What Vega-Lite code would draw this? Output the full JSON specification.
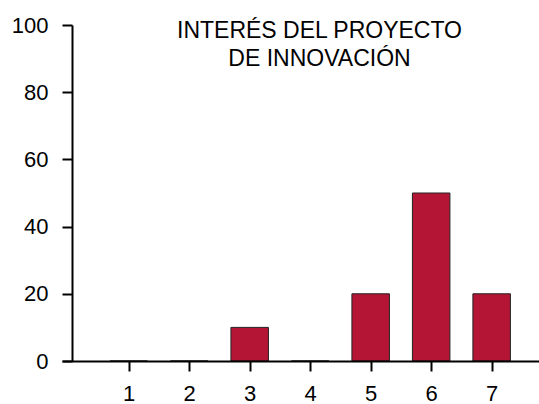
{
  "$schema": "https://vega.github.io/schema/vega-lite/v6.json",
  "autosize": "none",
  "padding": {"left": 62, "top": 25, "right": 0, "bottom": 43},
  "width": 477,
  "height": 336,
  "background": "white",
  "config": {
    "view": {"stroke": null},
    "font": "Liberation Sans"
  },
  "title": {
    "text": ["INTERÉS DEL PROYECTO", "DE INNOVACIÓN"],
    "fontSize": 23,
    "fontWeight": "normal",
    "font": "Liberation Sans",
    "color": "black",
    "lineHeight": 28,
    "baseline": "alphabetic",
    "anchor": "middle",
    "frame": "group",
    "orient": "top",
    "offset": -40,
    "dx": 19,
    "dy": 35
  },
  "data": {
    "values": [
      {"puntuacion": 1, "porcentaje": 0},
      {"puntuacion": 2, "porcentaje": 0},
      {"puntuacion": 3, "porcentaje": 10},
      {"puntuacion": 4, "porcentaje": 0},
      {"puntuacion": 5, "porcentaje": 20},
      {"puntuacion": 6, "porcentaje": 50},
      {"puntuacion": 7, "porcentaje": 20}
    ]
  },
  "mark": {"type": "bar", "size": 37.5, "color": "#B51535", "stroke": "#222222", "strokeWidth": 1},
  "encoding": {
    "x": {
      "field": "puntuacion",
      "type": "quantitative",
      "scale": {"domain": [-0.02, 7.7], "nice": false, "zero": false},
      "axis": {
        "title": null,
        "values": [1, 2, 3, 4, 5, 6, 7],
        "grid": false,
        "zindex": 1,
        "domainColor": "black",
        "domainWidth": 2,
        "tickColor": "black",
        "tickWidth": 2,
        "tickSize": 10,
        "labelFontSize": 22,
        "labelColor": "black",
        "labelPadding": 12,
        "labelFont": "Liberation Sans"
      }
    },
    "y": {
      "field": "porcentaje",
      "type": "quantitative",
      "scale": {"domain": [0, 100], "nice": false},
      "axis": {
        "title": null,
        "values": [0, 20, 40, 60, 80, 100],
        "grid": false,
        "zindex": 1,
        "offset": -10,
        "domainColor": "black",
        "domainWidth": 2,
        "tickColor": "black",
        "tickWidth": 2,
        "tickSize": 10,
        "labelFontSize": 22,
        "labelColor": "black",
        "labelPadding": 14,
        "labelFont": "Liberation Sans"
      }
    }
  }
}
